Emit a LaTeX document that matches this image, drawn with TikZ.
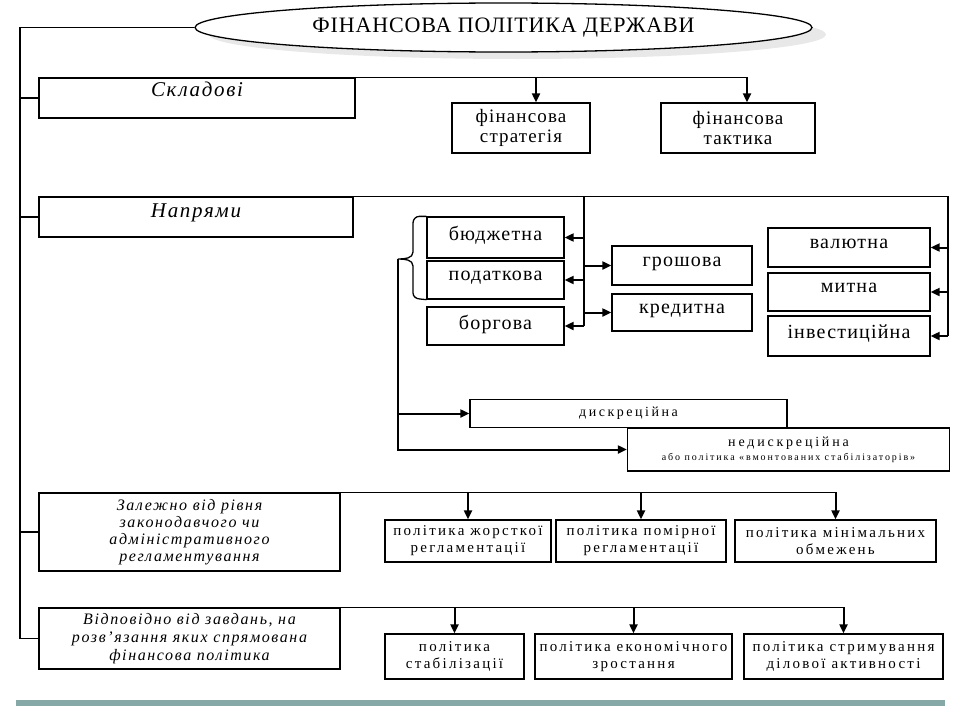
\documentclass[tikz,border=0pt]{standalone}
\usepackage{fontspec}
\setmainfont{Liberation Serif}
\newfontfamily\ttl[LetterSpace=4]{Liberation Serif}
\newfontfamily\spa[LetterSpace=6]{Liberation Serif}
\newfontfamily\spl[LetterSpace=8]{Liberation Serif}
\newfontfamily\spb[LetterSpace=15]{Liberation Serif}
\newfontfamily\spi[LetterSpace=10]{Liberation Serif}
\newfontfamily\spd[LetterSpace=18]{Liberation Serif}
\newfontfamily\spe[LetterSpace=20]{Liberation Serif}
\newfontfamily\spf[LetterSpace=19]{Liberation Serif}
\usetikzlibrary{arrows.meta,shapes.geometric,shadows}
\definecolor{barcol}{HTML}{86A8A6}
\begin{document}
\begin{tikzpicture}[x=1pt,y=-1pt,
  ln/.style={line width=1.4pt},
  box/.style={draw,line width=1.3pt,rectangle,fill=white,inner sep=1pt,align=center},
  big/.style={box,font=\spa\fontsize{20}{21}\selectfont,text depth=8pt},
  two/.style={box,font=\spa\fontsize{19}{20}\selectfont},
  sml/.style={box,font=\spb\fontsize{15}{17}\selectfont},
  lbl/.style={box,font=\spl\itshape\fontsize{21}{23}\selectfont},
  lbls/.style={box,font=\spi\itshape\fontsize{16}{17}\selectfont},
  arr/.style={line width=2pt,-{Triangle[length=9pt,width=8pt]}}]
\useasboundingbox (0,0) rectangle (960,720);

% title
\node[ellipse,draw,line width=1.3pt,fill=white,inner sep=0pt,
      minimum width=617pt,minimum height=49pt,
      drop shadow={shadow xshift=14pt,shadow yshift=-7pt,fill=gray!35},
      font=\ttl\fontsize{22}{24}\selectfont] (title) at (503.5,27.5) {ФІНАНСОВА ПОЛІТИКА ДЕРЖАВИ};

% group 1
\node[lbl,minimum width=316pt,minimum height=40pt,text depth=18pt] (skl) at (197,98) {Складові};
\node[two,minimum width=138pt,minimum height=50pt] (strat) at (521,128) {фінансова\\стратегія};
\node[two,minimum width=154pt,minimum height=50pt] (takt) at (738,128) {фінансова\\тактика};

% group 2
\node[lbl,minimum width=314pt,minimum height=40pt,text depth=12pt] (napr) at (196,217) {Напрями};
\node[big,minimum width=137pt,minimum height=41pt] (budg) at (495.5,237.5) {бюджетна};
\node[big,minimum width=137pt,minimum height=38pt] (podat) at (495.5,280) {податкова};
\node[big,minimum width=137pt,minimum height=38pt] (borg) at (495.5,326) {боргова};
\node[big,minimum width=140pt,minimum height=39pt] (grosh) at (682,265.5) {грошова};
\node[big,minimum width=140pt,minimum height=37pt] (kred) at (682,312.5) {кредитна};
\node[big,minimum width=162pt,minimum height=39pt] (val) at (849,247.5) {валютна};
\node[big,minimum width=162pt,minimum height=38pt] (mytna) at (849,292) {митна};
\node[big,minimum width=162pt,minimum height=40pt] (inv) at (849,336) {інвестиційна};
\node[box,minimum width=317pt,minimum height=28pt,font=\spd\fontsize{14}{15}\selectfont] (dysk) at (628.5,413.5) {дискреційна};
\node[box,minimum width=322pt,minimum height=43pt,font=\spe\fontsize{14}{15}\selectfont] (nedysk) at (788.5,449.5)
  {недискреційна\\[-1pt]{\spf\fontsize{10}{11}\selectfont або політика «вмонтованих стабілізаторів»}};

% group 3
\node[lbls,minimum width=301pt,minimum height=78pt] (zal) at (189.5,532)
  {Залежно від рівня\\законодавчого чи\\адміністративного\\регламентування};
\node[sml,minimum width=166pt,minimum height=42pt] (zhorst) at (468,541) {політика жорсткої\\регламентації};
\node[sml,minimum width=170pt,minimum height=42pt] (pomir) at (641,541) {політика помірної\\регламентації};
\node[sml,minimum width=201pt,minimum height=42pt] (minim) at (835.5,541) {політика мінімальних\\обмежень};

% group 4
\node[lbls,minimum width=301pt,minimum height=61pt,font=\spi\itshape\fontsize{16}{18}\selectfont] (vidp) at (189.5,638.5)
  {Відповідно від завдань, на\\розв’язання яких спрямована\\фінансова політика};
\node[sml,minimum width=139pt,minimum height=45pt] (stab) at (454.5,656.5) {політика\\стабілізації};
\node[sml,minimum width=197pt,minimum height=45pt] (ekon) at (633.5,656.5) {політика економічного\\зростання};
\node[sml,minimum width=199pt,minimum height=45pt] (stry) at (843.5,656.5) {політика стримування\\ділової активності};

% spine
\coordinate (sp) at (20,0);
\draw[ln] (title.west) -| (sp |- vidp.west) -- (vidp.west);
\draw[ln] (sp |- skl.west) -- (skl.west);
\draw[ln] (sp |- napr.west) -- (napr.west);
\draw[ln] (sp |- zal.west) -- (zal.west);

% group 1 connectors
\coordinate (g1a) at (536,0);
\coordinate (g1b) at (747,0);
\draw[ln] (skl.north east) -- (g1b |- skl.north);
\draw[arr] (g1a |- skl.north) -- (g1a |- strat.north);
\draw[arr] (g1b |- skl.north) -- (g1b |- takt.north);

% group 2 connectors
\coordinate (rv) at (948,0);
\coordinate (mv) at (584,0);
\draw[ln] (napr.north east) -- (rv |- napr.north) -- (rv |- inv.east);
\draw[ln] (mv |- napr.north) -- (mv |- borg.east);
\draw[arr] (mv |- budg.east) -- (budg.east);
\draw[arr] (mv |- podat.east) -- (podat.east);
\draw[arr] (mv |- borg.east) -- (borg.east);
\draw[arr] (mv |- grosh.west) -- (grosh.west);
\draw[arr] (mv |- kred.west) -- (kred.west);
\draw[arr] (rv |- val.east) -- (val.east);
\draw[arr] (rv |- mytna.east) -- (mytna.east);
\draw[arr] (rv |- inv.east) -- (inv.east);
% brace
\coordinate (bt) at (398,259);
\draw[line width=1.3pt] (budg.north west) -- ++(-7,0) to[out=180,in=90] (413,223) -- (413,252)
  to[out=270,in=0] (bt) to[out=0,in=90] (413,266) -- (413,293) to[out=270,in=180] (420,299) -- (podat.south west);
\draw[arr] (bt) |- (nedysk.west);
\draw[arr] (bt |- dysk.west) -- (dysk.west);

% group 3 connectors
\draw[ln] (zal.north east) -- (minim.north |- zal.north);
\draw[arr] (zhorst.north |- zal.north) -- (zhorst.north);
\draw[arr] (pomir.north |- zal.north) -- (pomir.north);
\draw[arr] (minim.north |- zal.north) -- (minim.north);

% group 4 connectors
\draw[ln] (vidp.north east) -- (stry.north |- vidp.north);
\draw[arr] (stab.north |- vidp.north) -- (stab.north);
\draw[arr] (ekon.north |- vidp.north) -- (ekon.north);
\draw[arr] (stry.north |- vidp.north) -- (stry.north);

% bottom bar
\fill[barcol] (16,700) rectangle (945,706);
\end{tikzpicture}
\end{document}
